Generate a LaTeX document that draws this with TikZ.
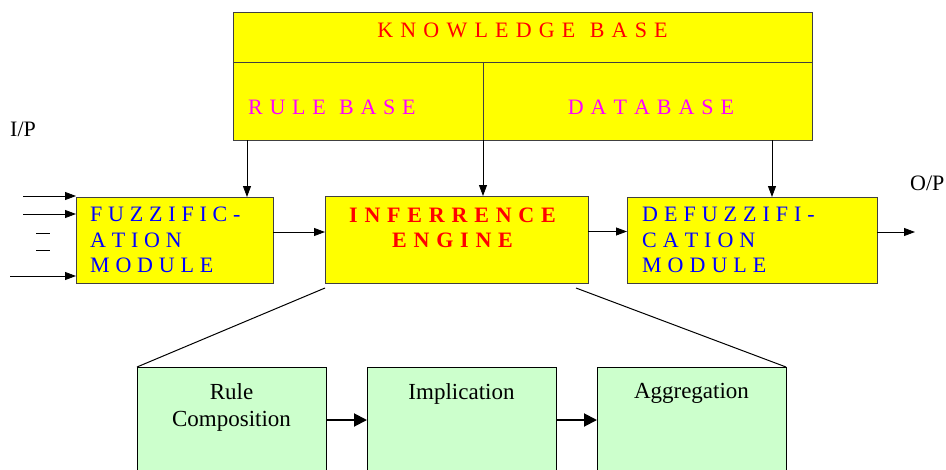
\documentclass[tikz,border=0pt]{standalone}
\usepackage{fontspec}
\setmainfont{Liberation Serif}
\usetikzlibrary{arrows.meta,positioning}

\definecolor{boxyellow}{HTML}{FFFF00}
\definecolor{boxgreen}{HTML}{CCFFCC}
\definecolor{kbred}{HTML}{FF0000}
\definecolor{kbpink}{HTML}{FF00FF}
\definecolor{modblue}{HTML}{0000FF}

% spaced capitals, gap given as argument
\newcommand{\capsgap}[1]{\fontsize{22}{25.5}\selectfont\spaceskip=#1\relax}
\newcommand{\boldgap}[1]{\fontsize{22}{25}\selectfont\bfseries\spaceskip=#1\relax}

\tikzset{
  ybox/.style={draw=black!75, fill=boxyellow, line width=1pt, inner sep=0pt, outer sep=0pt,
    font=\capsgap{5.5pt}},
  ytext/.style={inner sep=0pt, align=left, anchor=west},
  gbox/.style={draw=black, fill=boxgreen, line width=1pt, inner sep=0pt, outer sep=0pt,
    minimum width=189pt, minimum height=130pt, anchor=north},
  gtext/.style={align=center, inner sep=0pt, font=\fontsize{23}{27.5}\selectfont},
  lbl/.style={inner sep=0pt, font=\fontsize{22}{25.5}\selectfont},
  conn/.style={line width=0.8pt, -{Triangle[length=11pt,width=8pt]}},
  flow/.style={line width=2pt, -{Triangle[length=13pt,width=13pt]}},
  edge/.style={line width=1pt}
}

\begin{document}
\begin{tikzpicture}[x=1pt,y=-1pt]
  \useasboundingbox (0,0) rectangle (946,469);
  \clip (0,0) rectangle (946,469);

  % knowledge base
  \node[ybox, minimum width=579pt, minimum height=50pt, text depth=14pt, text=kbred,
    font=\capsgap{7.2pt}] (kb) at (522.5,37)
    {K N O W L E D G E\ \ B A S E};
  \node[ybox, minimum width=250pt, minimum height=78pt] (rb) at (358,101) {};
  \node[ytext, text=kbpink, font=\capsgap{6.7pt}] (rbtext) at ([xshift=15pt,yshift=-6pt]rb.west)
    {R U L E\ \ B A S E};
  \node[ybox, minimum width=329pt, minimum height=78pt, text height=26.6pt, text=kbpink,
    font=\capsgap{7pt}] (db) at (647.5,101)
    {\hspace*{7pt}D A T A B A S E};

  % main modules
  \node[ybox, minimum width=197pt, minimum height=86pt] (fz) at (174.5,240) {};
  \node[ytext, text=modblue, font=\capsgap{5.8pt}] (fztext) at ([xshift=14pt]fz.west)
    {F U Z Z I F I C -\\A T I O N\\M O D U L E};
  \node[ybox, minimum width=263pt, minimum height=87pt] (ie) at (456.5,239.5) {};
  \node[lbl, anchor=north, align=center, text=kbred, font=\boldgap{6.8pt}] (ietext)
    at ([xshift=-4pt,yshift=-12pt]ie.north) {I N F E R R E N C E\\E N G I N E};
  \node[ybox, minimum width=250pt, minimum height=86pt] (df) at (752,240) {};
  \node[ytext, text=modblue, font=\capsgap{6pt}] (dftext) at ([xshift=15pt]df.west)
    {D E F U Z Z I F I -\\C A T I O N\\M O D U L E};

  % labels
  \node[lbl, anchor=base west] (ip) at (10,136.7) {I/P};
  \node[lbl, anchor=base west] (op) at (910,190) {O/P};

  % inputs
  \coordinate (in1) at (23,196);
  \coordinate (in2) at (23,214);
  \coordinate (in3) at (10,276);
  \coordinate (out) at (915,232);
  \draw[conn] (in1) -- (in1 -| fz.west);
  \draw[conn] (in2) -- (in2 -| fz.west);
  \draw[conn] (in3) -- (in3 -| fz.west);
  \draw[line width=0.8pt] (36,233) -- (50,233);
  \draw[line width=0.8pt] (36,250) -- (50,250);

  % knowledge base to modules
  \draw[conn] ([xshift=14pt]rb.south west) -- ([xshift=14pt]rb.south west |- fz.north);
  \draw[conn] (rb.south east) -- (rb.south east |- ie.north);
  \draw[conn] ([xshift=-40pt]db.south east) -- ([xshift=-40pt]db.south east |- df.north);

  % module chain
  \draw[conn] ([yshift=8pt]fz.east) -- ([yshift=8pt]fz.east -| ie.west);
  \draw[conn] ([yshift=8pt]ie.east) -- ([yshift=8pt]ie.east -| df.west);
  \draw[conn] ([yshift=8pt]df.east) -- (out);

  % inference engine detail
  \node[gbox] (rc) at (231.5,367) {};
  \node[gbox] (im) at (461.5,367) {};
  \node[gbox] (ag) at (691.5,367) {};
  \node[gtext, anchor=north] (rctext) at ([yshift=-16pt]rc.north) {Rule\\Composition};
  \node[gtext, anchor=north] (imtext) at ([yshift=-16pt]im.north) {Implication};
  \node[gtext, anchor=north] (agtext) at ([yshift=-16pt]ag.north) {Aggregation};
  \draw[edge] ([yshift=-5pt]ie.south west) -- (rc.north west);
  \draw[edge] ([xshift=-12pt,yshift=-5pt]ie.south east) -- (ag.north east);
  \draw[flow] ([yshift=-53pt]rc.north east) -- ([yshift=-53pt]im.north west);
  \draw[flow] ([yshift=-53pt]im.north east) -- ([yshift=-53pt]ag.north west);
\end{tikzpicture}
\end{document}
